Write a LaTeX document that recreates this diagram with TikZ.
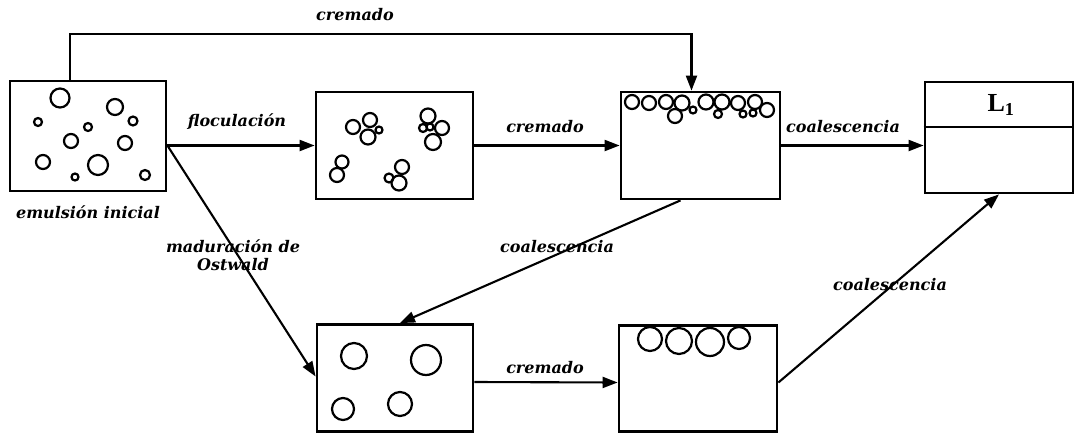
\documentclass[tikz,border=0pt]{standalone}
\usepackage{fontspec}
\setmainfont{DejaVu Serif}
\newfontfamily\lfont{Liberation Serif}
\usetikzlibrary{arrows.meta}
\begin{document}
\begin{tikzpicture}[x=1pt,y=-1pt,
  box/.style={draw,line width=2.8pt,inner sep=0pt,minimum width=#1},
  arr/.style={line width=2.1pt,-{Triangle[length=15pt,width=11pt]}},
  lbl/.style={font=\fontsize{16}{18}\selectfont\bfseries\itshape,inner sep=1pt},
  bub/.style={line width=2.2pt}]
\useasboundingbox (0,0) rectangle (1080,434);

% containers
\node[box=156pt,minimum height=110pt] (b1) at (88,136) {};
\node[box=157pt,minimum height=107pt] (b2) at (394.5,145.5) {};
\node[box=159pt,minimum height=107pt] (b3) at (700.5,145.5) {};
\node[box=148pt,minimum height=111pt] (b4) at (999,137.5) {};
\node[box=156pt,minimum height=107pt] (b5) at (395,378) {};
\node[box=158pt,minimum height=106pt] (b6) at (698,378.5) {};

% separated phase in the last container
\draw[line width=2.4pt] ([yshift=10.5pt]b4.west) -- ([yshift=10.5pt]b4.east);
\node[font=\lfont\fontsize{26}{28}\selectfont\bfseries] (l1) at (1001,105) {L\textsubscript{1}};

% initial emulsion droplets
\foreach \x/\y/\r in {60/98/9.5,115/107/8,38/122/4,88/127/4,133/121/4.5,71/141/7,
  125/143/7,43/162/7,98/165/10,75/177/3.5,145/175/5}
  \draw[bub] (\x,\y) circle (\r);

% flocculated droplets
\foreach \x/\y/\r in {353/127/7,370/120/7,368/137/7.5,379/130/3.5,
  428/116/7.5,423/128/4,430/127/3.5,442/128/7,433/142/8,
  342/162/6.5,337/175/7,
  402/167/7,389/178/4.5,399/183/7.5}
  \draw[bub] (\x,\y) circle (\r);

% creamed droplets
\foreach \x/\y/\r in {632/102/7,649/103/7,666/102/7,682/103/7.5,693/110/3.5,
  706/102/7.5,722/102/7.5,738/103/7,755/102/7,767/110/7,675/116/7,
  718/114/4,743/114/3.5,753/113/3.5}
  \draw[bub] (\x,\y) circle (\r);

% ripened droplets
\foreach \x/\y/\r in {354/356/13,426/360/15,343/409/11,400/404/12}
  \draw[bub] (\x,\y) circle (\r);

% creamed large droplets
\foreach \x/\y/\r in {650/339/12,679/341/13,710/342/14,739/338/11}
  \draw[bub] (\x,\y) circle (\r);

% connectors
\draw[arr] ([xshift=-18pt]b1.north) |- ([xshift=-9pt,yshift=57pt]b3.north)
  -- ([xshift=-9pt]b3.north);
\draw[arr] (b1.east |- b2.west) -- (b2.west);
\draw[arr] (b2.east) -- (b3.west);
\draw[arr] (b3.east) -- (b3.east -| b4.west);
\draw[arr] (b1.east |- b2.west) -- ([yshift=1.5pt]b5.west);
\draw[arr] ([xshift=-20pt]b3.south) -- ([xshift=5pt]b5.north);
\draw[arr] ([yshift=-4pt]b5.east) -- ([yshift=-4pt]b6.west);
\draw[arr] ([yshift=-4pt]b6.east) -- (b4.south);

% labels
\node[lbl] (t1) at (355,15) {cremado};
\node[lbl] (t2) at (237,122) {floculación};
\node[lbl] (t3) at (545,127) {cremado};
\node[lbl] (t4) at (843,127) {coalescencia};
\node[lbl] (t5) at (88,212) {emulsión inicial};
\node[lbl,align=center] (t6) at (233,255) {maduración de\\Ostwald};
\node[lbl] (t7) at (557,247) {coalescencia};
\node[lbl] (t8) at (545,368) {cremado};
\node[lbl] (t9) at (890,285) {coalescencia};
\end{tikzpicture}
\end{document}
